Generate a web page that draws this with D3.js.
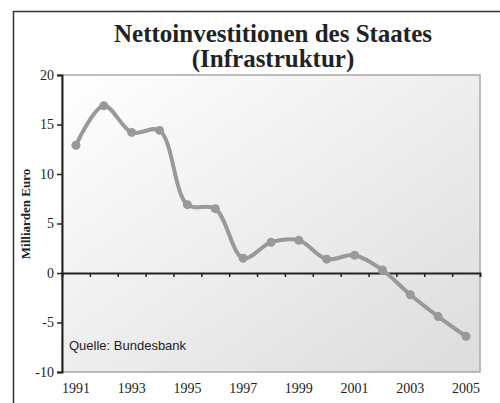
<!DOCTYPE html>
<html>
<head>
<meta charset="utf-8">
<script src="https://cdn.jsdelivr.net/npm/d3@7"></script>
<style>
  body { margin: 0; background: #fff; }
  svg { display: block; }
</style>
</head>
<body>
<svg id="chart"></svg>
<script>
var w = 500;
var h = 403;

// data
var years = [1991, 1992, 1993, 1994, 1995, 1996, 1997, 1998, 1999, 2000, 2001, 2002, 2003, 2004, 2005];
var values = [12.9, 16.9, 14.2, 14.4, 6.9, 6.5, 1.5, 3.1, 3.3, 1.4, 1.8, 0.3, -2.2, -4.4, -6.4];
var yTicks = [-10, -5, 0, 5, 10, 15, 20];
var xLabels = [1991, 1993, 1995, 1997, 1999, 2001, 2003, 2005];

// plot box (window.top is reserved, so not called "top")
var plotL = 62, plotR = 480, plotT = 75, plotB = 372;

var serif = "'Liberation Serif', 'Times New Roman', serif";

var svg = d3.select("#chart")
  .attr("width", w)
  .attr("height", h)

var defs = svg.append("defs")
var grad = defs.append("linearGradient")
  .attr("id", "bg")
  .attr("x1", "0").attr("y1", "0")
  .attr("x2", "1").attr("y2", "1")
grad.append("stop").attr("offset", "0%").attr("stop-color", "#ffffff")
grad.append("stop").attr("offset", "100%").attr("stop-color", "#dcdcdc")

// outer frame
svg.append("path")
  .attr("d", "M13.5," + h + "V11.5H" + w)
  .attr("fill", "none")
  .attr("stroke", "#333")
  .attr("stroke-width", 1.5)

var x = d3.scaleBand()
  .domain(years)
  .range([plotL, plotR])

var y = d3.scaleLinear()
  .domain([-10, 20])
  .range([plotB, plotT])

// plot area
svg.append("rect")
  .attr("x", plotL)
  .attr("y", plotT)
  .attr("width", plotR - plotL)
  .attr("height", plotB - plotT)
  .attr("fill", "url(#bg)")
  .attr("stroke", "#a8a8a8")
  .attr("stroke-width", 1.5)

// y axis
var yAxis = svg.append("g")
  .attr("transform", "translate(" + plotL + ",0)")
  .call(d3.axisLeft(y).tickValues(yTicks).tickSize(5).tickPadding(3))
yAxis.select(".domain").attr("stroke", "#222").attr("stroke-width", 2)
yAxis.selectAll(".tick line").attr("stroke", "#222").attr("stroke-width", 1.5)
yAxis.selectAll("text")
  .style("font-family", serif)
  .style("font-size", "14px")
  .attr("fill", "#222")
  .text(function(d) { return d < 0 ? "-" + Math.abs(d) : d })

// zero line with ticks between years
var zeroAxis = svg.append("g")
  .attr("transform", "translate(0," + y(0) + ")")
  .call(d3.axisBottom(d3.scaleLinear().domain([0, years.length]).range([plotL, plotR]))
    .tickValues(d3.range(1, years.length))
    .tickSize(4)
    .tickFormat(""))
zeroAxis.select(".domain").attr("stroke", "#222").attr("stroke-width", 2)
zeroAxis.selectAll(".tick line").attr("stroke", "#222").attr("stroke-width", 1.5)

// x labels
svg.append("g")
  .selectAll("text")
  .data(xLabels)
  .enter()
  .append("text")
  .attr("x", function(d) { return x(d) + x.bandwidth() / 2 })
  .attr("y", 393)
  .attr("text-anchor", "middle")
  .style("font-family", serif)
  .style("font-size", "14px")
  .attr("fill", "#222")
  .text(function(d) { return d })

// line
var line = d3.line()
  .x(function(d, i) { return x(years[i]) + x.bandwidth() / 2 })
  .y(function(d) { return y(d) })
  .curve(d3.curveCatmullRom.alpha(0.5))

svg.append("path")
  .datum(values)
  .attr("d", line)
  .attr("fill", "none")
  .attr("stroke", "#999")
  .attr("stroke-width", 4)
  .attr("stroke-linejoin", "round")

svg.selectAll(".dot")
  .data(values)
  .enter()
  .append("circle")
  .attr("class", "dot")
  .attr("cx", function(d, i) { return x(years[i]) + x.bandwidth() / 2 })
  .attr("cy", function(d) { return y(d) })
  .attr("r", 4.5)
  .attr("fill", "#999")

// title
var title = svg.append("text")
  .attr("x", 273)
  .attr("text-anchor", "middle")
  .style("font-family", serif)
  .style("font-weight", "bold")
  .style("font-size", "25px")
  .attr("fill", "#222")
title.append("tspan").attr("x", 273).attr("y", 42).text("Nettoinvestitionen des Staates")
title.append("tspan").attr("x", 273).attr("y", 67).text("(Infrastruktur)")

// y label
svg.append("text")
  .attr("transform", "translate(30,214) rotate(-90)")
  .attr("text-anchor", "middle")
  .style("font-family", serif)
  .style("font-weight", "bold")
  .style("font-size", "13px")
  .attr("fill", "#222")
  .text("Milliarden Euro")

// source
svg.append("text")
  .attr("x", 69)
  .attr("y", 350)
  .style("font-family", "'Liberation Sans', Arial, sans-serif")
  .style("font-size", "13px")
  .attr("fill", "#222")
  .text("Quelle: Bundesbank")
</script>
</body>
</html>
